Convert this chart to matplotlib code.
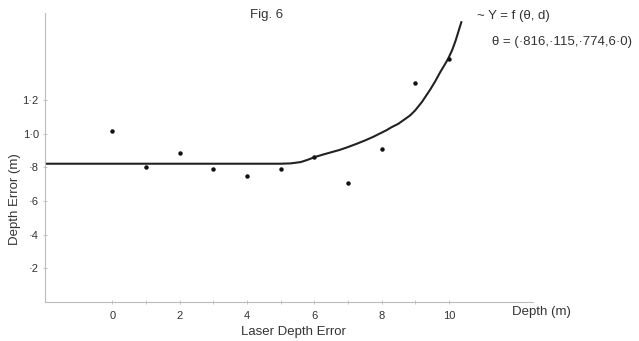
import matplotlib.pyplot as plt
from matplotlib.ticker import FixedLocator

plt.rcParams['font.family'] = ['Liberation Sans', 'DejaVu Sans']

# measured points
depth = [0, 1, 2, 3, 4, 5, 6, 7, 8, 9, 10]
error = [1.015, 0.804, 0.885, 0.790, 0.747, 0.792, 0.865, 0.707, 0.907, 1.305, 1.448]

# fitted curve
curve_d = [-2.0, 5.0, 5.3, 5.6, 5.8, 6.02, 6.25, 6.5, 6.75, 6.97, 7.25, 7.5,
           7.75, 7.96, 8.15, 8.3, 8.5, 8.66, 8.85, 9.0, 9.2, 9.45, 9.6, 9.75,
           9.9, 9.98, 10.1, 10.2, 10.3, 10.37]
curve_y = [0.822, 0.822, 0.824, 0.832, 0.845, 0.862, 0.876, 0.890, 0.904,
           0.919, 0.940, 0.960, 0.982, 1.003, 1.022, 1.040, 1.060, 1.083,
           1.110, 1.140, 1.190, 1.265, 1.315, 1.370, 1.420, 1.448, 1.500,
           1.555, 1.620, 1.665]

xticks = [0, 2, 4, 6, 8, 10]
yticks = [0.2, 0.4, 0.6, 0.8, 1.0, 1.2]
ytick_labels = ['·2', '·4', '·6', '·8', '1·0', '1·2']

txt = '#333333'

fig = plt.figure(figsize=(6.39, 3.41), dpi=100)
ax = fig.add_axes([45 / 639, 39.3 / 341, 488 / 639, 288.7 / 341])

ax.plot(curve_d, curve_y, color='#222222', lw=1.5)
ax.plot(depth, error, 'o', color='#111111', ms=2.2)

ax.set_xlim(-2, 12.5)
ax.set_ylim(0, 1.72)

for s in ['top', 'right']:
    ax.spines[s].set_visible(False)
for s in ['left', 'bottom']:
    ax.spines[s].set_color('#bbbbbb')
    ax.spines[s].set_linewidth(0.8)

ax.set_xticks(xticks)
ax.xaxis.set_minor_locator(FixedLocator([1, 3, 5, 7, 9]))
ax.set_yticks(yticks)
ax.set_yticklabels(ytick_labels)
ax.tick_params(axis='both', which='both', direction='inout', length=3,
               color='#bbbbbb', labelsize=8, labelcolor=txt, width=0.6)
ax.tick_params(axis='x', pad=5)
ax.tick_params(axis='y', pad=3)

fig.text(15 / 639, 1 - 199 / 341, 'Depth Error (m)', rotation=90,
         ha='center', va='center', fontsize=9.5, color=txt)
fig.text(293 / 639, 1 - 332 / 341, 'Laser Depth Error', ha='center',
         va='center', fontsize=9.5, color=txt)
fig.text(512 / 639, 1 - 312 / 341, 'Depth (m)', ha='left', va='center',
         fontsize=9.5, color=txt)
fig.text(267 / 639, 1 - 15 / 341, 'Fig. 6', ha='center', va='center',
         fontsize=9.5, color=txt)
fig.text(477 / 639, 1 - 16 / 341, '~ Y = f (θ, d)', ha='left', va='center',
         fontsize=9.5, color=txt)
fig.text(492 / 639, 1 - 42 / 341, 'θ = (·816,·115,·774,6·0)', ha='left',
         va='center', fontsize=9.5, color=txt)

fig.savefig('out.png', dpi=100, facecolor='white')
